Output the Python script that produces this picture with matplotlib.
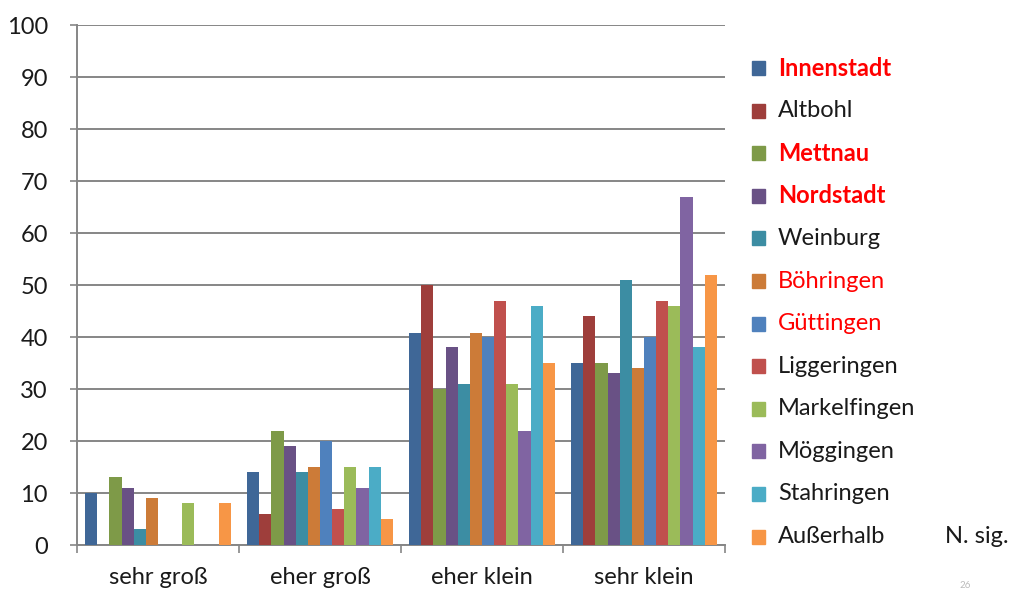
import numpy as np
import matplotlib.pyplot as plt
from matplotlib.patches import Rectangle

categories = ["sehr groß", "eher groß", "eher klein", "sehr klein"]
series = ["Innenstadt", "Altbohl", "Mettnau", "Nordstadt", "Weinburg", "Böhringen",
          "Güttingen", "Liggeringen", "Markelfingen", "Möggingen", "Stahringen", "Außerhalb"]

innenstadt = [10, 14, 40.7, 35]
altbohl = [0, 6, 50, 44]
mettnau = [13, 22, 30, 35]
nordstadt = [11, 19, 38, 33]
weinburg = [3, 14, 31, 51]
boehringen = [9, 15, 40.7, 34]
guettingen = [0, 20, 40, 40]
liggeringen = [0, 7, 47, 47]
markelfingen = [8, 15, 31, 46]
moeggingen = [0, 11, 22, 67]
stahringen = [0, 15, 46, 38]
ausserhalb = [8, 5, 35, 52]

values = [innenstadt, altbohl, mettnau, nordstadt, weinburg, boehringen,
          guettingen, liggeringen, markelfingen, moeggingen, stahringen, ausserhalb]

colors = ["#3F6797", "#9E3E3B", "#7E9A48", "#695185", "#3C8DA3", "#CC7B38",
          "#4F81BD", "#C0504D", "#9BBB59", "#8064A2", "#4BACC6", "#F79646"]

# label styling in the legend: significant ones in red, some bold
label_color = ["red", "#1a1a1a", "red", "red", "#1a1a1a", "red",
               "red", "#1a1a1a", "#1a1a1a", "#1a1a1a", "#1a1a1a", "#1a1a1a"]
label_bold = [True, False, True, True, False, False,
              False, False, False, False, False, False]

plt.rcParams['font.family'] = ['Lato', 'DejaVu Sans']

W, H = 1030, 593
fig = plt.figure(figsize=(W / 100, H / 100), dpi=100)
ax = fig.add_axes([77 / W, 1 - 545 / H, 648 / W, 520 / H])

n = len(series)
group_w = 0.9
bw = group_w / n
x = np.arange(len(categories))
for i, (vals, c) in enumerate(zip(values, colors)):
    ax.bar(x - group_w / 2 + bw * (i + 0.5), vals, width=bw, color=c, zorder=3)

ax.set_xlim(-0.5, len(categories) - 0.5)
ax.set_ylim(0, 100)
ax.set_yticks(np.arange(0, 101, 10))
ax.yaxis.grid(True, color="#868686", linewidth=1.4, zorder=0)
ax.set_axisbelow(True)

ax.set_xticks(x)
ax.set_xticklabels(categories)
ax.set_xticks(np.arange(-0.5, len(categories)), minor=True)
ax.tick_params(axis="x", which="major", length=0, pad=16, labelsize=17, labelcolor="#1a1a1a")
ax.tick_params(axis="x", which="minor", length=6, width=1.2, color="#868686")
ax.tick_params(axis="y", length=5, width=1.2, color="#868686", labelsize=17,
               labelcolor="#1a1a1a", pad=16)

for s in ["top", "right"]:
    ax.spines[s].set_visible(False)
for s in ["left", "bottom"]:
    ax.spines[s].set_color("#868686")
    ax.spines[s].set_linewidth(1.4)

# legend drawn by hand on the right side
y0, dy = 68, 42.6
for i, name in enumerate(series):
    yc = y0 + i * dy
    fig.patches.append(Rectangle((752 / W, 1 - (yc + 7) / H), 13 / W, 14 / H,
                                 transform=fig.transFigure, color=colors[i]))
    fig.text(778 / W, 1 - yc / H, name, color=label_color[i],
             fontweight="bold" if label_bold[i] else "normal",
             fontsize=17, va="center", ha="left")

fig.text(945 / W, 1 - (y0 + 11 * dy) / H, "N. sig.", color="#1a1a1a",
         fontsize=17, va="center", ha="left")
fig.text(965 / W, 587 / H * 0 + 3 / H, "26", color="#bbbbbb", fontsize=7,
         va="bottom", ha="center")

fig.savefig("out.png", dpi=100)
